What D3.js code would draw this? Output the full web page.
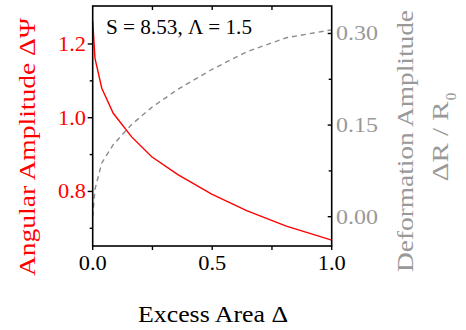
<!DOCTYPE html>
<html>
<head>
<meta charset="utf-8">
<script src="https://cdn.jsdelivr.net/npm/d3@7"></script>
<style>
  body { margin: 0; background: #fff; }
  text { font-family: "Liberation Serif", serif; }
</style>
</head>
<body>
<svg width="466" height="330"></svg>
<script>
// excess area values where the curves were sampled
const excessArea = [0, 0.0096, 0.038, 0.086, 0.163, 0.247, 0.358, 0.498, 0.644, 0.81, 1.0]
// angular amplitude (left axis, red)
const angularAmp = [1.261, 1.161, 1.080, 1.012, 0.948, 0.894, 0.845, 0.793, 0.748, 0.706, 0.668]
// deformation amplitude (right axis, gray dashed)
const deformAmp = [0, 0.045, 0.088, 0.118, 0.151, 0.179, 0.209, 0.241, 0.270, 0.293, 0.306]

const xTicks = [0, 0.5, 1.0]
const xMinor = [0.25, 0.75]
const leftTicks = [0.8, 1.0, 1.2]
const leftMinor = [0.7, 0.9, 1.1]
const rightTicks = [0, 0.15, 0.30]
const rightMinor = [0.075, 0.225]

const red = "#ff0000"
const gray = "#999999"

const svg = d3.select("svg")

const x = d3.scaleLinear().domain([0, 1]).range([92.7, 331.7])
const yL = d3.scaleLinear().domain([0.652, 1.303]).range([246, 6])
const yR = d3.scaleLinear().domain([-0.048, 0.345]).range([246, 6])

// curves
const lineL = d3.line().x((d, i) => x(excessArea[i])).y(d => yL(d))
const lineR = d3.line().x((d, i) => x(excessArea[i])).y(d => yR(d))

svg.append("path")
  .attr("d", lineR(deformAmp))
  .attr("fill", "none")
  .attr("stroke", "#8c8c8c")
  .attr("stroke-width", 1.4)
  .attr("stroke-dasharray", "5,4")

svg.append("path")
  .attr("d", lineL(angularAmp))
  .attr("fill", "none")
  .attr("stroke", red)
  .attr("stroke-width", 1.4)

// frame
svg.append("rect")
  .attr("x", x(0)).attr("y", 6)
  .attr("width", x(1) - x(0)).attr("height", 240)
  .attr("fill", "none")
  .attr("stroke", "#000")
  .attr("stroke-width", 1.6)

// bottom axis: ticks out, top: ticks in
const xAll = xTicks.concat(xMinor)
svg.selectAll(".xt").data(xAll).enter().append("line")
  .attr("x1", d => x(d)).attr("x2", d => x(d))
  .attr("y1", 246).attr("y2", 250)
  .attr("stroke", "#000").attr("stroke-width", 1.4)
svg.selectAll(".xtt").data(xAll.filter(d => d > 0 && d < 1)).enter().append("line")
  .attr("x1", d => x(d)).attr("x2", d => x(d))
  .attr("y1", 6).attr("y2", 10)
  .attr("stroke", "#000").attr("stroke-width", 1.4)

svg.selectAll(".xl").data(xTicks).enter().append("text")
  .attr("x", d => x(d)).attr("y", 270)
  .attr("text-anchor", "middle")
  .attr("font-size", 21)
  .attr("textLength", 28).attr("lengthAdjust", "spacingAndGlyphs")
  .text(d => d3.format(".1f")(d))

// left axis
svg.selectAll(".lt").data(leftTicks).enter().append("line")
  .attr("x1", x(0) - 5).attr("x2", x(0))
  .attr("y1", d => yL(d)).attr("y2", d => yL(d))
  .attr("stroke", "#000").attr("stroke-width", 1.4)
svg.selectAll(".lm").data(leftMinor).enter().append("line")
  .attr("x1", x(0) - 3).attr("x2", x(0))
  .attr("y1", d => yL(d)).attr("y2", d => yL(d))
  .attr("stroke", "#000").attr("stroke-width", 1.4)
svg.selectAll(".ll").data(leftTicks).enter().append("text")
  .attr("x", 86).attr("y", d => yL(d) + 7)
  .attr("text-anchor", "end")
  .attr("font-size", 21)
  .attr("textLength", 28).attr("lengthAdjust", "spacingAndGlyphs")
  .attr("fill", red)
  .text(d => d3.format(".1f")(d))

// right axis, ticks point inward
svg.selectAll(".rt").data(rightTicks).enter().append("line")
  .attr("x1", x(1) - 4).attr("x2", x(1))
  .attr("y1", d => yR(d)).attr("y2", d => yR(d))
  .attr("stroke", "#000").attr("stroke-width", 1.4)
svg.selectAll(".rm").data(rightMinor).enter().append("line")
  .attr("x1", x(1) - 3).attr("x2", x(1))
  .attr("y1", d => yR(d)).attr("y2", d => yR(d))
  .attr("stroke", "#000").attr("stroke-width", 1.4)
svg.selectAll(".rl").data(rightTicks).enter().append("text")
  .attr("x", 336).attr("y", d => yR(d) + 7)
  .attr("font-size", 21)
  .attr("textLength", 42).attr("lengthAdjust", "spacingAndGlyphs")
  .attr("fill", gray)
  .text(d => d3.format(".2f")(d))

// axis titles
svg.append("text")
  .attr("x", 213).attr("y", 322)
  .attr("text-anchor", "middle")
  .attr("font-size", 24)
  .attr("textLength", 150).attr("lengthAdjust", "spacingAndGlyphs")
  .text("Excess Area Δ")

svg.append("text")
  .attr("transform", "translate(35,147) rotate(-90)")
  .attr("text-anchor", "middle")
  .attr("font-size", 24)
  .attr("textLength", 258).attr("lengthAdjust", "spacingAndGlyphs")
  .attr("fill", red)
  .text("Angular Amplitude ΔΨ")

svg.append("text")
  .attr("transform", "translate(413,141) rotate(-90)")
  .attr("text-anchor", "middle")
  .attr("font-size", 24)
  .attr("textLength", 262).attr("lengthAdjust", "spacingAndGlyphs")
  .attr("fill", gray)
  .text("Deformation Amplitude")

const rTitle2 = svg.append("text")
  .attr("transform", "translate(448,137) rotate(-90)")
  .attr("text-anchor", "middle")
  .attr("font-size", 24)
  .attr("fill", gray)
rTitle2.append("tspan")
  .attr("textLength", 80).attr("lengthAdjust", "spacingAndGlyphs")
  .text("ΔR / R")
rTitle2.append("tspan").attr("font-size", 15).attr("dx", 1).attr("dy", 8).text("0")

// parameters
svg.append("text")
  .attr("x", 106).attr("y", 34)
  .attr("font-family", "Liberation Sans, Arial, sans-serif")
  .attr("font-size", 20)
  .attr("textLength", 146).attr("lengthAdjust", "spacingAndGlyphs")
  .text("S = 8.53, Λ = 1.5")
</script>
</body>
</html>
